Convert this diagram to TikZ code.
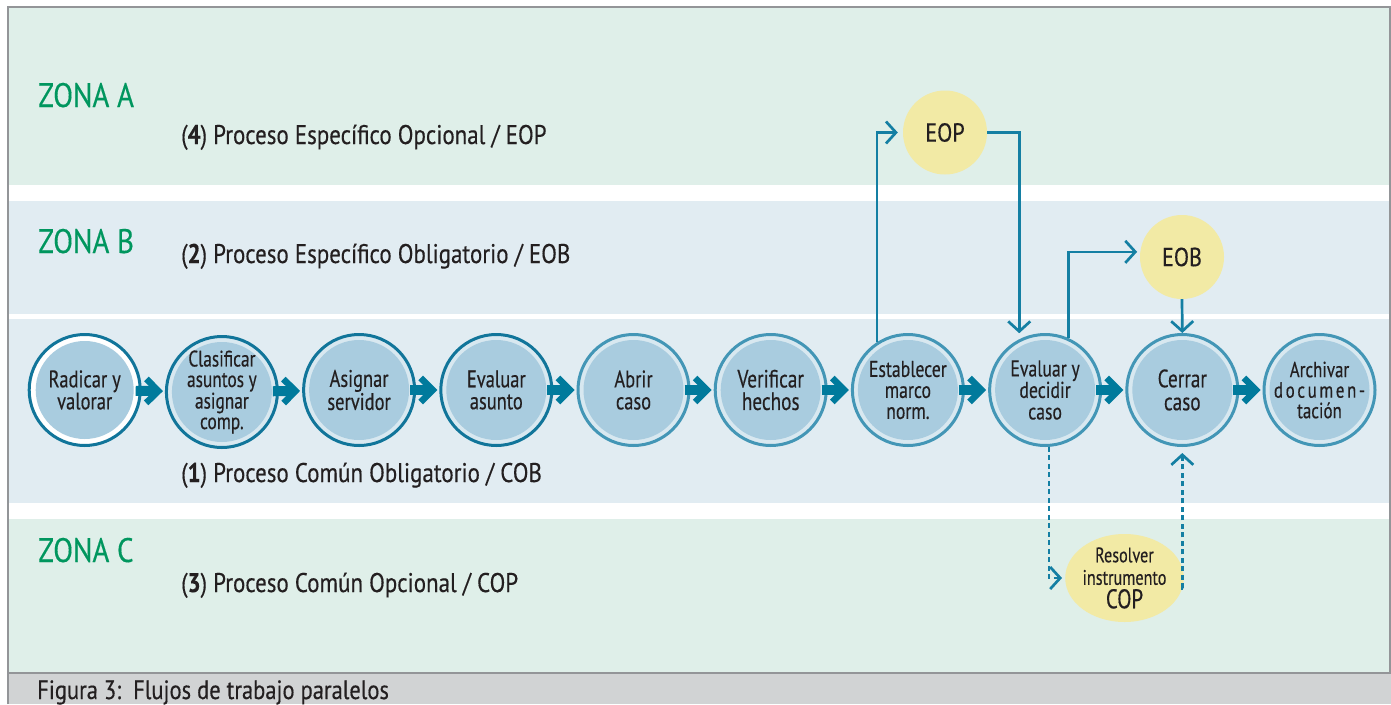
\documentclass[tikz,border=0pt]{standalone}
\usepackage{fontspec}
\setmainfont[FakeStretch=0.85,FakeBold=0.35]{PT Sans}
\newfontfamily\condfont[FakeStretch=0.77,FakeBold=0.35]{PT Sans}
\usetikzlibrary{arrows.meta,shapes.geometric}

\definecolor{mint}{HTML}{DFEFE9}
\definecolor{pale}{HTML}{E1ECF2}
\definecolor{framegray}{HTML}{939598}
\definecolor{capgray}{HTML}{D1D3D4}
\definecolor{zgreen}{HTML}{00965E}
\definecolor{arrcol}{HTML}{007A9C}
\definecolor{lncol}{HTML}{147FA3}
\definecolor{darkring}{HTML}{11759A}
\definecolor{lightring}{HTML}{4396B6}
\definecolor{ringfill}{HTML}{D8E8F0}
\definecolor{corefill}{HTML}{A9CCDF}
\definecolor{yel}{HTML}{F2EAA5}
\definecolor{txt}{HTML}{231F20}

\begin{document}
\begin{tikzpicture}[x=1pt,y=-1pt,
  proc/.style={circle, minimum size=111pt, inner sep=0pt, line width=3pt,
    fill=ringfill, text=txt, align=center,
    font=\condfont\fontsize{24}{22}\selectfont,
    path picture={\fill[corefill] (path picture bounding box.center) circle (50pt);}},
  procdark/.style={proc, draw=darkring},
  proclight/.style={proc, draw=lightring},
  firstproc/.style={proc, draw=darkring, fill=white,
    path picture={\fill[corefill] (path picture bounding box.center) circle (49pt);}},
  yelnode/.style={circle, fill=yel, minimum size=84pt, inner sep=0pt, text=txt,
    font=\fontsize{26}{26}\selectfont},
  copnode/.style={ellipse, fill=yel, minimum width=95pt, minimum height=88pt,
    inner sep=0pt, text=txt, align=center, font=\condfont\fontsize{21}{22.5}\selectfont},
  mainarr/.style={draw=arrcol, line width=10pt, shorten <=-6pt, shorten >=2pt,
    -{Straight Barb[length=12pt,width=24pt,line width=6.5pt]}},
  flow/.style={draw=lncol, line width=2.7pt, line cap=butt,
    -{Straight Barb[length=10pt,width=22pt]}},
  optflow/.style={flow, dash pattern=on 5pt off 3.5pt},
  zone/.style={anchor=base west, inner sep=0pt, text=zgreen,
    font=\fontsize{34}{34}\selectfont},
  plabel/.style={anchor=base west, inner sep=0pt, text=txt,
    font=\fontsize{27}{27}\selectfont},
]
\useasboundingbox (0,0) rectangle (1391,704);

% bands
\fill[mint] (8,8) rectangle (1390,185);
\fill[pale] (8,201) rectangle (1390,314);
\fill[pale] (8,319) rectangle (1390,503);
\fill[mint] (8,519) rectangle (1390,672);
\fill[capgray] (8,673) rectangle (1391,704);
\draw[framegray, line width=2pt] (8,704) -- (8,7) -- (1390,7) -- (1390,673);
\draw[framegray, line width=2pt] (8,673) -- (1391,673);

% zone labels
\node[zone] (za) at (38,107) {ZONA A};
\node[zone] (zb) at (38,253) {ZONA B};
\node[zone] (zc) at (38,562) {ZONA C};

\node[plabel] (l4) at (181,144) {(\textbf{4}) Proceso Específico Opcional / EOP};
\node[plabel] (l2) at (181,263) {(\textbf{2}) Proceso Específico Obligatorio / EOB};
\node[plabel] (l1) at (181,482) {(\textbf{1}) Proceso Común Obligatorio / COB};
\node[plabel] (l3) at (181,592) {(\textbf{3}) Proceso Común Opcional / COP};

\node[anchor=base west, inner sep=0pt, text=txt, font=\fontsize{26.5}{26.5}\selectfont]
  (cap) at (37,699) {Figura 3:\ \ Flujos de trabajo paralelos};

% main process
\node[firstproc] (p0) at (84.7,390) {Radicar y\\valorar};
\node[procdark, font=\condfont\fontsize{22.5}{20.5}\selectfont] (p1) at (221.9,392) {Clasificar\\asuntos y\\asignar\\comp.};
\node[procdark] (p2) at (359.1,390) {Asignar\\servidor};
\node[procdark] (p3) at (496.3,390) {Evaluar\\asunto};
\node[proclight] (p4) at (633.5,390) {Abrir\\caso};
\node[proclight, font=\condfont\fontsize{25}{22.5}\selectfont] (p5) at (770.7,390) {Verificar\\hechos};
\node[proclight, font=\condfont\fontsize{23}{21}\selectfont] (p6) at (907.9,390) {Establecer\\marco\\norm.};
\node[proclight, font=\condfont\fontsize{23}{21.5}\selectfont] (p7) at (1045.1,390) {Evaluar y\\decidir\\caso};
\node[proclight, font=\condfont\fontsize{25}{23}\selectfont] (p8) at (1182.3,390) {Cerrar\\caso};
\node[proclight, font=\condfont\fontsize{22}{20.5}\selectfont] (p9) at (1319.5,390)
  {Archivar\\{\addfontfeature{LetterSpace=12}documen-}\\tación};

\foreach \a/\b in {p0/p1,p1/p2,p2/p3,p3/p4,p4/p5,p5/p6,p6/p7,p7/p8,p8/p9}
  \draw[mainarr] (\a) -- (\b);

% specific processes
\node[yelnode] (eop) at (945,132.5) {EOP};
\node[yelnode] (eob) at (1182,257) {EOB};
\node[copnode] (cop) at (1124.5,578)
  {Resolver\\instrumento\\[1pt]{\fontsize{27}{27}\selectfont COP}};

\draw[flow, shorten >=5pt] (p6.123) |- (eop.west);
\draw[flow, shorten >=6pt] (eop.east) -| (p7.117);
\draw[flow, shorten >=3pt] (p7.66) |- (eob.173);
\draw[flow] (eob.south) -- (p8.north);
\draw[optflow, shorten >=3pt] (p7.-86) |- (cop.west);
\draw[optflow, shorten >=6pt] (cop.-10) -| (p8.south);
\end{tikzpicture}
\end{document}
